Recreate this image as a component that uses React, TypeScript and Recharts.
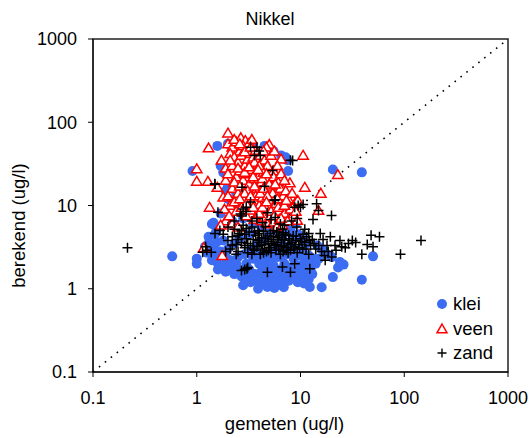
import {
  Label,
  Legend,
  ReferenceArea,
  ReferenceLine,
  Scatter,
  ScatterChart,
  XAxis,
  YAxis,
} from 'recharts'

const FONT = '"Liberation Sans", Arial, sans-serif'
const TICKS = [0.1, 1, 10, 100, 1000]

// [gemeten, berekend]
const kleiPts: [number, number][] = [
  [0.58, 2.45], [1.0, 2.3], [1.0, 2.0], [0.91, 26], [1.58, 52], [20.5, 27], [39, 25],
  [39, 1.28], [50, 2.45], [20.5, 1.38], [23, 1.8], [26, 1.95], [2.8, 1.1], [3.9, 1.0],
  [4.8, 1.05], [5.6, 1.02], [6.9, 1.04], [9.4, 1.2], [10.8, 1.16], [12.3, 1.05], [16, 1.04],
  [7.5, 35], [7.6, 26], [1.9, 15], [2.0, 17], [2.4, 14], [13.5, 2.3], [14, 2.0], [15, 2.3],
  [18, 2.6], [17, 2.8], [2.0, 55], [2.5, 55], [3.5, 53], [4.5, 52], [5.5, 45], [6.5, 40],
  [7.2, 38], [1.8, 25], [1.7, 30], [1.4, 6], [1.5, 4.5], [1.3, 3.5], [1.2, 3.2], [1.25, 2.7],
  [1.5, 2.5], [1.6, 2.0], [1.8, 1.9], [2.0, 1.8], [2.2, 1.9], [2.5, 1.7], [2.8, 1.6],
  [3.2, 1.7], [3.6, 1.5], [4.0, 1.4], [4.4, 1.3], [4.8, 1.5], [5.2, 1.3], [5.8, 1.25],
  [6.3, 1.4], [7.0, 1.3], [6.0, 1.1], [4.5, 1.15], [3.3, 1.2], [3.0, 2.0], [3.5, 2.3],
  [4.0, 2.0], [4.5, 2.6], [5.0, 2.2], [5.5, 1.9], [6.0, 2.4], [7.0, 2.0], [8.0, 1.8],
  [9.0, 1.6], [10, 1.9], [11, 2.2], [12, 2.5], [9.5, 3.0], [8.5, 2.8], [7.5, 3.2], [6.5, 3.5],
  [2.0, 3.0], [2.3, 3.5], [2.6, 4.0], [1.8, 3.8], [1.6, 5.5], [2.2, 6.5], [2.8, 7.0],
  [3.5, 6.0], [4.2, 5.5], [5.0, 6.5], [6.0, 7.5], [7.0, 6.0], [8.0, 5.0], [9.0, 6.0],
  [9.5, 4.5], [10.5, 4.0], [11.5, 3.5], [8.0, 9.0], [7.0, 8.5], [2.5, 9.0], [3.0, 10],
  [1.7, 8.0], [2.0, 12], [3.2, 4.5], [3.8, 3.5], [4.5, 3.8], [5.5, 3.0], [1.4, 2.2],
  [1.7, 2.8], [6.5, 1.7], [7.8, 1.5], [8.5, 1.35], [11, 1.5], [12.5, 1.7], [14.5, 3.3],
  [16, 3.0], [20, 2.4], [24, 2.1], [1.6, 1.7], [1.9, 1.6], [2.3, 1.5], [2.7, 1.4],
  [3.0, 1.35], [3.4, 1.45], [3.8, 1.25], [4.2, 1.6], [4.6, 1.8], [5.0, 1.7], [5.4, 1.55],
  [5.9, 1.6], [6.4, 1.2], [6.8, 1.55], [7.3, 1.7], [7.7, 1.25], [8.2, 1.45], [9.0, 1.3],
  [9.8, 1.45], [10.5, 1.7], [12, 1.3], [13, 1.5], [2.1, 2.2], [2.5, 2.4], [2.9, 2.6],
  [3.3, 2.9], [3.9, 2.7], [4.3, 2.3], [5.3, 2.6], [5.8, 2.8], [6.6, 2.5], [7.4, 2.6],
  [8.6, 2.3], [9.4, 2.5], [10.5, 2.8], [1.3, 4.2], [1.45, 3.0], [1.55, 3.6], [1.9, 2.4],
  [2.4, 2.0], [1.45, 6.2], [1.55, 5.0], [4.8, 4.6], [5.8, 5.0], [6.8, 4.5], [7.6, 4.8],
  [8.6, 4.0], [12, 2.0],
]

const veenPts: [number, number][] = [
  [2.0, 74], [1.3, 49], [1.0, 27.5], [1.0, 19.5], [1.28, 19.5], [1.58, 16.5], [1.33, 9.5],
  [1.76, 2.5], [1.17, 3.1], [10.6, 40], [22.9, 23.5], [11, 16.5], [15.7, 14], [14.9, 8.7],
  [9.3, 6.6], [5.0, 54], [2.66, 65], [2.94, 60], [1.9, 20], [1.73, 35], [1.8, 12.6],
  [8.8, 10.5], [9.4, 11.5], [7.9, 18.7], [6.5, 36], [2.0, 55], [2.2, 50], [2.4, 58],
  [2.6, 45], [2.8, 52], [3.0, 48], [3.2, 56], [2.1, 42], [2.3, 38], [2.5, 33], [2.7, 40],
  [2.9, 30], [3.1, 36], [3.3, 42], [3.5, 38], [3.7, 46], [3.9, 33], [4.1, 40], [4.3, 28],
  [4.5, 35], [4.8, 30], [5.2, 40], [5.5, 26], [1.9, 28], [2.0, 24], [2.2, 30], [2.4, 22],
  [2.6, 26], [2.8, 20], [3.0, 24], [3.2, 18], [3.4, 27], [3.6, 21], [3.8, 16], [4.0, 23],
  [4.2, 19], [4.4, 25], [4.6, 15], [4.9, 21], [5.2, 17], [5.5, 22], [5.8, 14], [6.1, 19],
  [6.4, 16], [6.8, 13], [7.2, 15], [7.6, 12], [2.2, 16], [2.5, 14], [2.8, 12], [3.1, 15],
  [3.4, 11], [3.7, 13], [4.0, 10], [4.3, 12.5], [4.6, 9.5], [5.0, 11.5], [5.4, 9],
  [5.8, 10.5], [6.2, 8.5], [6.6, 10], [7.0, 8], [2.1, 10], [2.4, 8.5], [2.7, 9.5],
  [3.0, 7.5], [3.3, 8.8], [3.6, 6.8], [3.9, 8], [4.2, 6.5], [4.5, 7.2], [4.8, 6],
  [5.1, 7.5], [5.5, 6.3], [5.9, 5.5], [6.3, 6.8], [6.7, 5.8], [1.9, 6.5], [2.2, 6],
  [2.5, 5.5], [7.5, 6.5], [8.0, 9], [8.3, 14], [9.0, 8.5], [5.6, 45], [4.7, 50], [3.4, 62],
  [6.0, 30], [6.5, 24], [7.0, 20], [1.7, 5.8], [2.3, 62], [2.6, 55], [2.9, 44], [3.3, 50],
  [3.6, 33], [4.0, 30], [4.4, 45], [2.1, 35], [2.5, 28], [2.9, 25], [3.2, 29], [3.5, 22],
  [3.9, 27], [4.3, 21], [4.7, 24], [5.0, 18], [5.4, 14], [5.7, 18], [6.0, 12], [2.3, 19],
  [2.6, 17], [2.9, 14], [3.3, 13], [3.6, 17], [4.1, 14], [4.4, 16], [4.8, 13], [2.0, 13],
  [2.3, 11], [2.6, 12], [3.0, 10.5], [3.5, 9.5], [4.0, 8], [4.3, 9.5], [4.7, 11], [5.2, 8.5],
  [5.6, 7.5], [6.1, 9.5], [6.5, 7], [7.0, 10], [7.3, 11.5], [1.85, 9], [2.05, 7.5],
]

const zandPts: [number, number][] = [
  [0.215, 3.1], [145, 3.8], [92, 2.6], [57.7, 4.2], [47.9, 4.4], [50, 3.2], [39, 2.6],
  [31.6, 3.8], [29, 3.5], [25, 3.2], [21.5, 3.3], [19.4, 4.2], [15.5, 4.6], [19.9, 7.6],
  [13.2, 6.8], [14.9, 8.7], [14.3, 10.5], [10.6, 10.3], [8.8, 9.5], [8.4, 34.6], [5.37, 26.3],
  [5.6, 11.5], [3.8, 50], [4.1, 40], [3.3, 50], [2.73, 16.6], [1.49, 18.2], [1.6, 8.3],
  [2.7, 1.66], [3.05, 1.74], [4.8, 1.58], [6.7, 1.82], [8.0, 1.58], [8.8, 2.0], [12.3, 1.74],
  [17.3, 2.2], [20, 2.4], [1.14, 2.75], [1.38, 2.75], [1.5, 4.6], [1.67, 5.0], [1.22, 3.2],
  [2.64, 7.9], [2.8, 9.1], [3.3, 11], [1.8, 4.5], [2.0, 3.8], [2.1, 3.0], [2.2, 4.2],
  [2.3, 5.2], [2.4, 3.4], [2.5, 2.8], [2.6, 4.6], [2.7, 3.6], [2.8, 5.8], [2.9, 3.1],
  [3.0, 4.0], [3.1, 2.7], [3.2, 4.8], [3.3, 3.3], [3.4, 5.5], [3.5, 3.9], [3.6, 2.9],
  [3.7, 4.4], [3.8, 3.2], [3.9, 5.0], [4.0, 3.6], [4.1, 2.6], [4.2, 4.1], [4.3, 3.0],
  [4.4, 4.9], [4.5, 3.4], [4.6, 5.6], [4.7, 2.8], [4.8, 4.3], [4.9, 3.7], [5.0, 3.1],
  [5.1, 4.6], [5.2, 2.7], [5.3, 3.9], [5.5, 4.2], [5.6, 3.3], [5.8, 2.9], [5.9, 4.8],
  [6.0, 3.6], [6.2, 3.0], [6.3, 4.4], [6.5, 3.2], [6.7, 5.2], [6.8, 2.8], [7.0, 3.8],
  [7.2, 4.5], [7.4, 3.1], [7.6, 3.5], [7.8, 4.0], [8.0, 2.9], [8.3, 3.6], [8.5, 4.3],
  [8.8, 3.2], [9.0, 3.8], [9.3, 2.7], [9.6, 3.4], [10, 4.0], [10.5, 3.0], [11, 3.6],
  [11.5, 4.2], [12, 2.6], [12.5, 3.3], [13, 3.9], [14, 3.0], [16, 2.8], [17, 2.5], [18, 3.3],
  [2.7, 7.5], [3.0, 8.5], [3.4, 6.5], [3.8, 7.0], [4.3, 6.2], [4.8, 8.2], [5.2, 6.8],
  [5.7, 7.2], [6.4, 6.0], [7.0, 5.8], [8.2, 6.5], [9.2, 5.5], [2.3, 6.5], [2.0, 5.5],
  [2.2, 3.3], [2.5, 3.9], [2.9, 4.5], [3.1, 3.5], [3.5, 3.0], [3.6, 4.8], [3.9, 3.8],
  [4.2, 3.3], [4.6, 4.0], [4.9, 2.9], [5.2, 3.5], [5.5, 5.0], [5.8, 3.4], [6.1, 4.1],
  [6.6, 3.9], [6.9, 3.3], [7.3, 2.9], [7.7, 4.4], [8.1, 3.4], [8.6, 3.0], [9.1, 4.3],
  [9.8, 3.1], [10.3, 3.7], [11.3, 3.0], [12.2, 3.8], [13.5, 3.5], [15, 3.3], [16.5, 3.9],
  [18.5, 2.8], [22, 2.9], [24, 3.8], [27, 3.1], [34, 3.6], [44, 3.4], [2.4, 2.6], [3.4, 2.6],
  [4.4, 2.7], [6.4, 2.6], [7.6, 2.7], [2.5, 4.4], [2.7, 5.0], [3.0, 5.3], [4.0, 4.6],
  [6.8, 4.7], [10.6, 4.5], [11, 5.2], [12, 4.6], [9.3, 7.0], [10.0, 9.5], [9.5, 10.0],
  [4.0, 45], [3.6, 40], [8.0, 35], [4.5, 17], [5.7, 11.7], [3.0, 9.5], [1.5, 18], [1.9, 2.8],
  [2.9, 1.7], [3.1, 1.8], [1.25, 2.9], [2.9, 3.3],
]

const toRows = (pts: [number, number][]) => pts.map(([x, y]) => ({ x, y }))

const BLUE = '#3b6cf2'
const RED = '#ff0000'

const Dot = (p: any) => <circle cx={p.cx} cy={p.cy} r={5} fill={BLUE} />
const Tri = (p: any) => (
  <path
    d={`M${p.cx},${p.cy - 5} L${p.cx + 5.2},${p.cy + 3.8} L${p.cx - 5.2},${p.cy + 3.8} Z`}
    fill="#fff"
    stroke={RED}
    strokeWidth={1.5}
  />
)
const Plus = (p: any) => (
  <path
    d={`M${p.cx - 5},${p.cy} H${p.cx + 5} M${p.cx},${p.cy - 5} V${p.cy + 5}`}
    stroke="#000"
    strokeWidth={1.5}
  />
)

const legendItems = [
  { name: 'klei', mark: <circle cx={7} cy={7} r={5} fill={BLUE} /> },
  { name: 'veen', mark: <path d="M7,2 L12,10.8 L2,10.8 Z" fill="#fff" stroke={RED} strokeWidth={1.5} /> },
  { name: 'zand', mark: <path d="M2.5,7 H11.5 M7,2.5 V11.5" stroke="#000" strokeWidth={1.4} /> },
]

function LegendBox() {
  return (
    <div style={{ fontFamily: FONT, fontSize: 18.5, color: '#000' }}>
      {legendItems.map((it) => (
        <div key={it.name} style={{ display: 'flex', alignItems: 'center', height: 24.5 }}>
          <svg width={14} height={14} style={{ marginRight: 4 }}>
            {it.mark}
          </svg>
          <span>{it.name}</span>
        </div>
      ))}
    </div>
  )
}

const tickStyle = { fill: '#000', fontSize: 18, fontFamily: FONT }

export default function App() {
  return (
    <div style={{ fontFamily: FONT }}>
      <style>{'body{margin:0}'}</style>
      <ScatterChart width={531} height={438} margin={{ top: 39, right: 23, bottom: 0, left: 0 }}>
        <text x={270} y={25} textAnchor="middle" fontSize={18} fontFamily={FONT} fill="#000">
          Nikkel
        </text>
        <XAxis
          type="number"
          dataKey="x"
          scale="log"
          domain={[0.1, 1000]}
          ticks={TICKS}
          allowDataOverflow
          height={66}
          tick={tickStyle}
          tickSize={5}
          tickMargin={14}
          stroke="#000"
          tickFormatter={(v: number) => String(v)}
        >
          <Label
            content={(props: any) => {
              const vb = props.viewBox
              return (
                <text x={vb.x + vb.width / 2 - 16} y={430} textAnchor="middle" fontSize={18.5} fontFamily={FONT} fill="#000">
                  gemeten (ug/l)
                </text>
              )
            }}
          />
        </XAxis>
        <YAxis
          type="number"
          dataKey="y"
          scale="log"
          domain={[0.1, 1000]}
          ticks={TICKS}
          allowDataOverflow
          width={93}
          tick={tickStyle}
          tickSize={5}
          tickMargin={11}
          stroke="#000"
          tickFormatter={(v: number) => String(v)}
        >
          <Label
            content={(props: any) => {
              const vb = props.viewBox
              const cy = vb.y + vb.height / 2 + 20
              return (
                <text
                  x={25}
                  y={cy}
                  transform={`rotate(-90 25 ${cy})`}
                  textAnchor="middle"
                  fontSize={18.5}
                  fontFamily={FONT}
                  fill="#000"
                >
                  berekend (ug/l)
                </text>
              )
            }}
          />
        </YAxis>
        <ReferenceArea x1={0.1} x2={1000} y1={0.1} y2={1000} fill="none" stroke="#222" strokeWidth={1.5} />
        <ReferenceLine
          segment={[{ x: 0.1, y: 0.1 }, { x: 1000, y: 1000 }]}
          stroke="#000"
          strokeWidth={1.6}
          strokeDasharray="1.6 6"
        />
        <Scatter name="klei" data={toRows(kleiPts)} shape={Dot} isAnimationActive={false} />
        <Scatter name="veen" data={toRows(veenPts)} shape={Tri} isAnimationActive={false} />
        <Scatter name="zand" data={toRows(zandPts)} shape={Plus} isAnimationActive={false} />
        <Legend
          layout="vertical"
          align="center"
          verticalAlign="middle"
          content={() => <LegendBox />}
          wrapperStyle={{ position: 'absolute', left: 435, top: 292, width: 80 }}
        />
      </ScatterChart>
    </div>
  )
}
